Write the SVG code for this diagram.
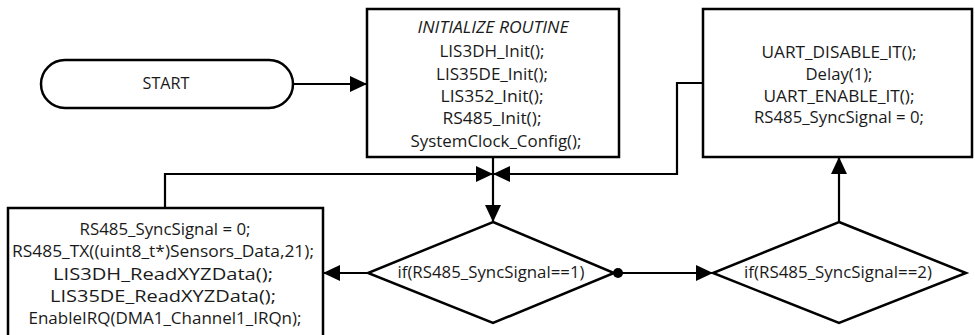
<svg xmlns="http://www.w3.org/2000/svg" width="975" height="335" viewBox="0 0 975 335">
<defs>
<style>
.shape{fill:#fff;stroke:#000;stroke-width:2.5}
.conn{fill:none;stroke:#000;stroke-width:2.2}
.t{font-family:"Open Sans","Liberation Sans",sans-serif;font-size:16.5px;fill:#1a1a1a;text-anchor:middle}
.it{font-style:italic}
</style>
<marker id="ah" markerUnits="userSpaceOnUse" viewBox="0 0 17 16" refX="16" refY="8" markerWidth="17" markerHeight="16" orient="auto">
<path d="M0,0 L17,8 L0,16 z" fill="#000"/>
</marker>
</defs>
<rect width="975" height="335" fill="#fff"/>
<g id="connectors">
<path class="conn" d="M293,84 L366,84" marker-end="url(#ah)"/>
<path class="conn" d="M165,208 L165,174 L492,174" marker-end="url(#ah)"/>
<path class="conn" d="M703,83 L677,83 L677,174 L494,174" marker-end="url(#ah)"/>
<path class="conn" d="M493,157 L493,221" marker-end="url(#ah)"/>
<path class="conn" d="M368,273 L324,273" marker-end="url(#ah)"/>
<path class="conn" d="M618,273 L712,273" marker-end="url(#ah)"/>
<circle cx="618" cy="273" r="5" fill="#000"/>
<path class="conn" d="M839,222 L839,158" marker-end="url(#ah)"/>
</g>
<g id="start">
<rect class="shape" x="41" y="60" width="252" height="48" rx="24" ry="24"/>
<text class="t" x="166" y="89" textLength="47" lengthAdjust="spacingAndGlyphs">START</text>
</g>
<g id="init">
<rect class="shape" x="367" y="9" width="252" height="148"/>
<text class="t it" x="493" y="33" textLength="151" lengthAdjust="spacingAndGlyphs">INITIALIZE ROUTINE</text>
<text class="t" x="492" y="57" textLength="105" lengthAdjust="spacingAndGlyphs">LIS3DH_Init();</text>
<text class="t" x="492" y="80" textLength="112" lengthAdjust="spacingAndGlyphs">LIS35DE_Init();</text>
<text class="t" x="492" y="102" textLength="103" lengthAdjust="spacingAndGlyphs">LIS352_Init();</text>
<text class="t" x="492" y="124" textLength="99" lengthAdjust="spacingAndGlyphs">RS485_Init();</text>
<text class="t" x="496" y="147" textLength="171" lengthAdjust="spacingAndGlyphs">SystemClock_Config();</text>
</g>
<g id="uart">
<rect class="shape" x="703" y="9" width="269" height="148"/>
<text class="t" x="839" y="58" textLength="155" lengthAdjust="spacingAndGlyphs">UART_DISABLE_IT();</text>
<text class="t" x="839" y="80" textLength="67" lengthAdjust="spacingAndGlyphs">Delay(1);</text>
<text class="t" x="839" y="102" textLength="151" lengthAdjust="spacingAndGlyphs">UART_ENABLE_IT();</text>
<text class="t" x="839" y="123" textLength="170" lengthAdjust="spacingAndGlyphs">RS485_SyncSignal = 0;</text>
</g>
<g id="send">
<rect class="shape" x="8" y="208" width="315" height="135"/>
<text class="t" x="165" y="235" textLength="171" lengthAdjust="spacingAndGlyphs">RS485_SyncSignal = 0;</text>
<text class="t" x="163" y="257" textLength="302" lengthAdjust="spacingAndGlyphs">RS485_TX((uint8_t*)Sensors_Data,21);</text>
<text class="t" x="163" y="280" textLength="220" lengthAdjust="spacingAndGlyphs">LIS3DH_ReadXYZData();</text>
<text class="t" x="163" y="302" textLength="226" lengthAdjust="spacingAndGlyphs">LIS35DE_ReadXYZData();</text>
<text class="t" x="165" y="324" textLength="273" lengthAdjust="spacingAndGlyphs">EnableIRQ(DMA1_Channel1_IRQn);</text>
</g>
<g id="dec1">
<polygon class="shape" points="493,222 614,273 493,323 368,273"/>
<text class="t" x="491" y="278" textLength="187" lengthAdjust="spacingAndGlyphs">if(RS485_SyncSignal==1)</text>
</g>
<g id="dec2">
<polygon class="shape" points="839,222 966,273 839,323 713,273"/>
<text class="t" x="838" y="278" textLength="188" lengthAdjust="spacingAndGlyphs">if(RS485_SyncSignal==2)</text>
</g>
</svg>
